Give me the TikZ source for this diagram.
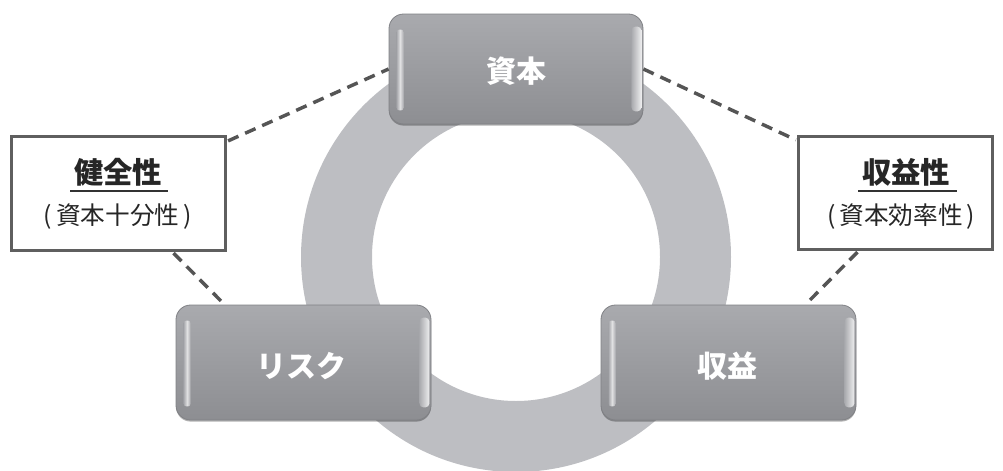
\documentclass[tikz,border=0pt]{standalone}
\usepackage{fontspec}
\newfontfamily\jp{Noto Sans CJK JP}
\usetikzlibrary{calc,shadows}
\definecolor{ringgray}{HTML}{BDBEC2}
\definecolor{btntop}{HTML}{A9AAAE}
\definecolor{btnbot}{HTML}{8D8E92}
\definecolor{btnedge}{HTML}{808185}
\definecolor{dashgray}{HTML}{555555}
\definecolor{framegray}{HTML}{5F5F5F}
\tikzset{
  btn/.style={rounded corners=11pt, top color=btntop, bottom color=btnbot,
    draw=btnedge, line width=0.6pt,
    drop shadow={shadow xshift=0pt, shadow yshift=-1.2pt, opacity=.3, fill=black},
    minimum width=190.5pt, minimum height=84pt, inner sep=0pt,
    text=white, font=\jp\bfseries\fontsize{22.5pt}{27pt}\selectfont},
  labelbox/.style={draw=framegray, line width=2.4pt, fill=white, inner sep=0pt},
  title/.style={font=\jp\bfseries\fontsize{22pt}{26pt}\selectfont, text=black!85, inner sep=0pt},
  subtitle/.style={font=\jp\fontsize{18.5pt}{22pt}\selectfont, text=black!85, inner sep=0pt},
  link/.style={draw=dashgray, line width=2.6pt, dash pattern=on 8.5pt off 5.5pt},
}
\newcommand\glossy[1]{%
  \shade[left color=btntop, right color=btntop, middle color=white!75!btntop, opacity=.9, rounded corners=2pt]
    ($(#1.north west)+(8,16)$) rectangle ($(#1.south west)+(15,-14)$);
  \shade[left color=btntop, right color=white!80!btntop, rounded corners=3pt]
    ($(#1.north east)+(-12,13)$) rectangle ($(#1.south east)+(-2,-13)$);
}
\begin{document}
\begin{tikzpicture}[x=0.75pt,y=-0.75pt]
\useasboundingbox (0,0) rectangle (1003,471);
% ring
\fill[ringgray,even odd rule] (516,257) circle (161.25pt) (516,257) circle (108pt);
% label boxes
\node[labelbox, minimum width=160.5pt, minimum height=85.5pt] (lbox) at (118.5,193.5) {};
\node[labelbox, minimum width=145.5pt, minimum height=84.75pt] (rbox) at (895.5,193) {};
% buttons
\node[btn, minimum height=82.5pt] (top) at (516,69) {};
\node[btn, minimum width=191.25pt, minimum height=86.25pt] (risk) at (303.5,362.5) {};
\node[btn, minimum width=191.25pt, minimum height=86.25pt] (profit) at (728.5,362.5) {};
\glossy{top}
\glossy{risk}
\glossy{profit}
\node[text=white, font=\jp\bfseries\fontsize{22.5pt}{27pt}\selectfont] (toptext) at (516,71) {資本};
\node[text=white, font=\jp\bfseries\fontsize{22.5pt}{27pt}\selectfont] (risktext) at (301,366) {リスク};
\node[text=white, font=\jp\bfseries\fontsize{22.5pt}{27pt}\selectfont] (profittext) at (727,366) {収益};
% dashed connectors
\draw[link] ($(lbox.north east)+(1,6)$) -- (top.west);
\draw[link] (top.east) -- ($(rbox.north west)+(-1,5)$);
\draw[link] ($(lbox.south)+(55,1)$) -- ($(risk.north west)+(47,-2)$);
\draw[link] ($(rbox.south)+(-38,1)$) -- ($(profit.north east)+(-49,-2)$);
% label texts
\node[title] (ltitle) at (118,172) {健全性};
\node[subtitle] (lsub) at (118,217) {(\kern3pt 資本十分性\kern3pt)};
\node[title] (rtitle) at (906,172) {収益性};
\node[subtitle] (rsub) at (901,217) {(\kern3pt 資本効率性\kern3pt)};
\draw[black!80, line width=0.8pt] (70,191) -- (168,191);
\draw[black!80, line width=0.8pt] (858,191) -- (957,191);
\end{tikzpicture}
\end{document}
